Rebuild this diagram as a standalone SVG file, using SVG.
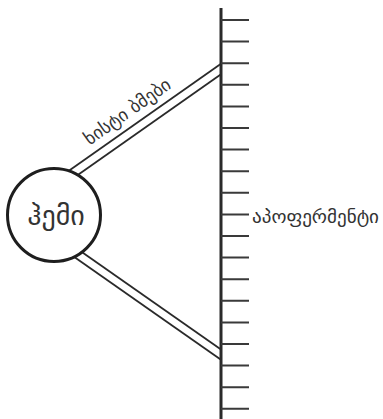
<svg xmlns="http://www.w3.org/2000/svg" width="383" height="419" viewBox="0 0 383 419">
<style>
.bar{stroke:#2a2a2a;stroke-width:3;fill:none}
.tick{stroke:#3a3a3a;stroke-width:2;fill:none}
.rail{stroke:#2a2a2a;stroke-width:1.8;fill:none}
.node{fill:#fff;stroke:#1e1e1e;stroke-width:3}
.lbl{font-family:"DejaVu Sans",sans-serif;fill:#333}
</style>
<rect width="383" height="419" fill="#fff"/>
<g id="connectors">
  <line class="rail" x1="60" y1="177" x2="221" y2="63.8"/>
  <line class="rail" x1="60" y1="187.5" x2="221" y2="74.2"/>
  <line class="rail" x1="60" y1="236.8" x2="221" y2="349.5"/>
  <line class="rail" x1="60" y1="247.1" x2="221" y2="359.8"/>
  <text class="lbl" font-size="18" text-anchor="middle" transform="translate(131,116.5) rotate(-35.1)">ხისტი ბმები</text>
</g>
<g id="apoferment">
  <line class="bar" x1="221" y1="8" x2="221" y2="419"/>
  <path class="tick" d="M221 20H249M221 41.6H249M221 63.2H249M221 84.8H249M221 106.4H249M221 128H249M221 149.6H249M221 171.2H249M221 192.8H249M221 214.4H249M221 236H249M221 257.6H249M221 279.2H249M221 300.8H249M221 322.4H249M221 344H249M221 365.6H249M221 387.2H249M221 408.8H249"/>
  <text class="lbl" x="252" y="223" font-size="18" textLength="127" lengthAdjust="spacingAndGlyphs">აპოფერმენტი</text>
</g>
<g id="heme">
  <circle class="node" cx="54" cy="215" r="46.5"/>
  <text class="lbl" x="56" y="225" font-size="28" text-anchor="middle">ჰემი</text>
</g>
</svg>
